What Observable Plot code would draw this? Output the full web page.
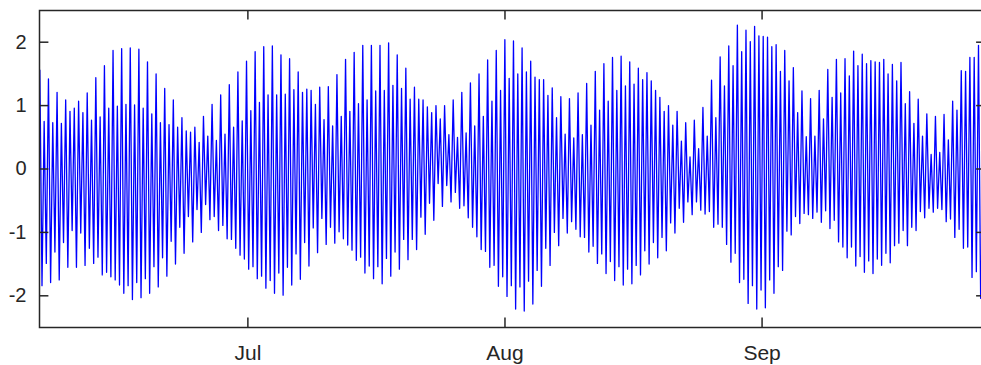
<!DOCTYPE html>
<html>
<head>
<meta charset="utf-8">
<script src="https://cdn.jsdelivr.net/npm/d3@7"></script>
<script src="https://cdn.jsdelivr.net/npm/@observablehq/plot@0.6"></script>
<style>
  html, body { margin: 0; padding: 0; background: #fff; overflow: hidden; }
  #chart { width: 981px; height: 365px; overflow: hidden; }
</style>
</head>
<body>
<div id="chart"></div>
<script>
// Tidal water level (m): successive high waters and low waters, in order.
const highWater = [
  1.56, 0.75, 1.42, 0.73, 1.21, 0.72, 1.09, 0.91, 0.96, 1.07, 0.89, 1.20, 0.77, 1.44, 0.82, 1.63, 0.96, 1.87, 0.99, 1.90, 1.02, 1.91, 1.01, 1.89, 0.96, 1.69, 0.87, 1.50, 0.73,
  1.27, 0.70, 1.09, 0.66, 0.81, 0.60, 0.58, 0.66, 0.42, 0.83, 0.52, 1.02, 0.45, 1.17, 0.55, 1.33, 0.66, 1.53, 0.76, 1.70, 0.92, 1.85, 1.05, 1.93, 1.17, 1.94, 1.17, 1.80,
  1.18, 1.74, 1.25, 1.53, 1.21, 1.26, 1.24, 1.02, 1.29, 0.78, 1.30, 0.68, 1.49, 0.83, 1.73, 0.91, 1.84, 1.03, 1.95, 1.09, 1.95, 1.23, 1.95, 1.24, 1.99, 1.32, 1.80,
  1.27, 1.59, 1.10, 1.29, 1.10, 1.09, 0.98, 0.89, 1.00, 0.79, 1.00, 0.54, 1.09, 0.50, 1.21, 0.57, 1.36, 0.68, 1.50, 0.83, 1.72, 1.07, 1.87, 1.24, 2.04, 1.43, 2.02, 1.50,
  1.91, 1.53, 1.70, 1.45, 1.41, 1.41, 1.16, 1.28, 0.81, 1.14, 0.55, 1.11, 0.49, 1.20, 0.54, 1.35, 0.69, 1.54, 0.93, 1.66, 1.07, 1.76, 1.24, 1.78, 1.31, 1.69, 1.34, 1.59,
  1.41, 1.52, 1.39, 1.24, 1.13, 0.91, 1.00, 0.69, 0.91, 0.44, 0.73, 0.19, 0.77, 0.32, 0.97, 0.52, 1.40, 0.81, 1.77, 1.31, 1.94, 1.63, 2.27, 1.85, 2.19, 2.01, 2.25, 2.10,
  2.09, 2.08, 1.93, 1.96, 1.54, 1.87, 1.39, 1.60, 0.89, 1.23, 0.51, 1.11, 0.52, 1.24, 0.79, 1.57, 1.13, 1.73, 1.20, 1.74, 1.47, 1.86, 1.63, 1.81, 1.66, 1.71, 1.69, 1.68,
  1.73, 1.50, 1.65, 1.39, 1.68, 1.03, 1.22, 0.72, 1.10, 0.52, 0.87, 0.23, 0.83, 0.26, 0.86, 0.46, 1.07, 0.93, 1.55, 1.54, 1.76, 1.76, 1.95
];
const lowWater = [
  -1.84, -1.49, -1.79, -1.31, -1.75, -1.16, -1.55, -0.97, -1.55, -1.01, -1.52, -1.25, -1.49, -1.39, -1.67, -1.63, -1.70, -1.75, -1.83, -1.96, -1.84, -2.06, -1.79, -2.03, -1.73, -1.96, -1.54, -1.86,
  -1.40, -1.69, -1.14, -1.50, -0.92, -1.33, -0.75, -1.15, -0.64, -1.00, -0.56, -0.80, -0.75, -0.97, -0.89, -1.10, -1.11, -1.25, -1.36, -1.42, -1.58, -1.54, -1.73, -1.69, -1.88, -1.76, -1.96, -1.64,
  -1.99, -1.55, -1.83, -1.34, -1.74, -1.16, -1.53, -0.93, -1.32, -0.78, -1.19, -0.92, -1.17, -0.99, -1.10, -1.20, -1.28, -1.44, -1.39, -1.64, -1.53, -1.73, -1.54, -1.81, -1.41, -1.69, -1.31, -1.58,
  -1.11, -1.43, -1.11, -1.27, -0.76, -1.03, -0.54, -0.81, -0.23, -0.59, -0.26, -0.52, -0.37, -0.62, -0.58, -0.77, -0.92, -1.07, -1.27, -1.30, -1.55, -1.52, -1.85, -1.70, -2.01, -1.84, -2.21, -1.86,
  -2.24, -1.77, -2.13, -1.60, -1.85, -1.25, -1.52, -1.00, -1.21, -0.78, -1.01, -0.83, -0.95, -1.07, -1.08, -1.31, -1.22, -1.49, -1.34, -1.65, -1.46, -1.76, -1.54, -1.83, -1.58, -1.81, -1.52, -1.67,
  -1.29, -1.50, -1.16, -1.40, -1.08, -1.29, -0.85, -1.01, -0.62, -0.84, -0.52, -0.72, -0.52, -0.65, -0.71, -0.67, -0.92, -0.87, -0.92, -1.19, -1.47, -1.33, -1.79, -1.74, -2.12, -1.84, -2.21,
  -1.91, -2.19, -1.75, -1.96, -1.54, -1.60, -0.98, -1.04, -0.75, -0.86, -0.70, -0.72, -0.78, -0.68, -0.84, -0.66, -0.94, -0.81, -1.15, -1.23, -1.40, -1.23, -1.53, -1.38, -1.63, -1.45, -1.65, -1.42,
  -1.52, -1.33, -1.48, -1.21, -1.17, -0.97, -1.21, -0.92, -0.97, -0.67, -0.77, -0.62, -0.68, -0.62, -0.64, -0.83, -0.79, -1.08, -0.95, -1.25, -1.23, -1.71, -1.62, -2.04
];

// Axis ticks
const yTicks = [-2, -1, 0, 1, 2];
const monthTicks = [new Date(Date.UTC(2019, 6, 1)), new Date(Date.UTC(2019, 7, 1)), new Date(Date.UTC(2019, 8, 1))];

// Record timing: first high water and the half tidal period between turning points
const firstTurn = Date.UTC(2019, 5, 5, 22, 0);
const halfTide = 6.23 * 3600 * 1000;
const xDomain = [new Date(Date.UTC(2019, 5, 5, 21, 0)), new Date(Date.UTC(2019, 8, 28, 0, 0))];

// Interleave high and low waters into one series
const series = [];
highWater.forEach((h, i) => {
  series.push({t: new Date(firstTurn + (2 * i) * halfTide), level: h});
  if (i < lowWater.length) series.push({t: new Date(firstTurn + (2 * i + 1) * halfTide), level: lowWater[i]});
});

const W = 981, H = 365;
const ML = 39, MR = -4.5, MT = 10, MB = 38;
const innerW = W - ML - MR, innerH = H - MT - MB;
const tickLen = 9.4;
const ink = "#262626";

const chart = Plot.plot({
  width: W,
  height: H,
  marginLeft: ML,
  marginRight: MR,
  marginTop: MT,
  marginBottom: MB,
  style: {fontFamily: "Arial, 'Liberation Sans', Helvetica, sans-serif", fontSize: "20px", color: ink, background: "#fff", overflow: "hidden"},
  x: {type: "utc", domain: xDomain},
  y: {domain: [-2.5, 2.5]},
  marks: [
    Plot.line(series, {x: "t", y: "level", stroke: "#0000ff", strokeWidth: 1.3, curve: "linear"}),
    // inward ticks on all four sides
    Plot.tickY(yTicks, {y: d => d, stroke: ink, strokeWidth: 1.5, insetRight: innerW - tickLen}),
    Plot.tickY(yTicks, {y: d => d, stroke: ink, strokeWidth: 1.5, insetLeft: innerW - tickLen}),
    Plot.tickX(monthTicks, {x: d => d, stroke: ink, strokeWidth: 1.5, insetTop: innerH - tickLen}),
    Plot.tickX(monthTicks, {x: d => d, stroke: ink, strokeWidth: 1.5, insetBottom: innerH - tickLen}),
    Plot.frame({stroke: ink, strokeWidth: 1.5}),
    Plot.axisY(yTicks, {tickSize: 0, tickPadding: 13, tickFormat: d => `${d}`, label: null, fill: ink}),
    Plot.axisX(monthTicks, {tickSize: 0, tickPadding: 18, tickFormat: d3.utcFormat("%b"), label: null, fill: ink, fontSize: "21px"})
  ]
});

document.getElementById("chart").append(chart);
</script>
</body>
</html>
